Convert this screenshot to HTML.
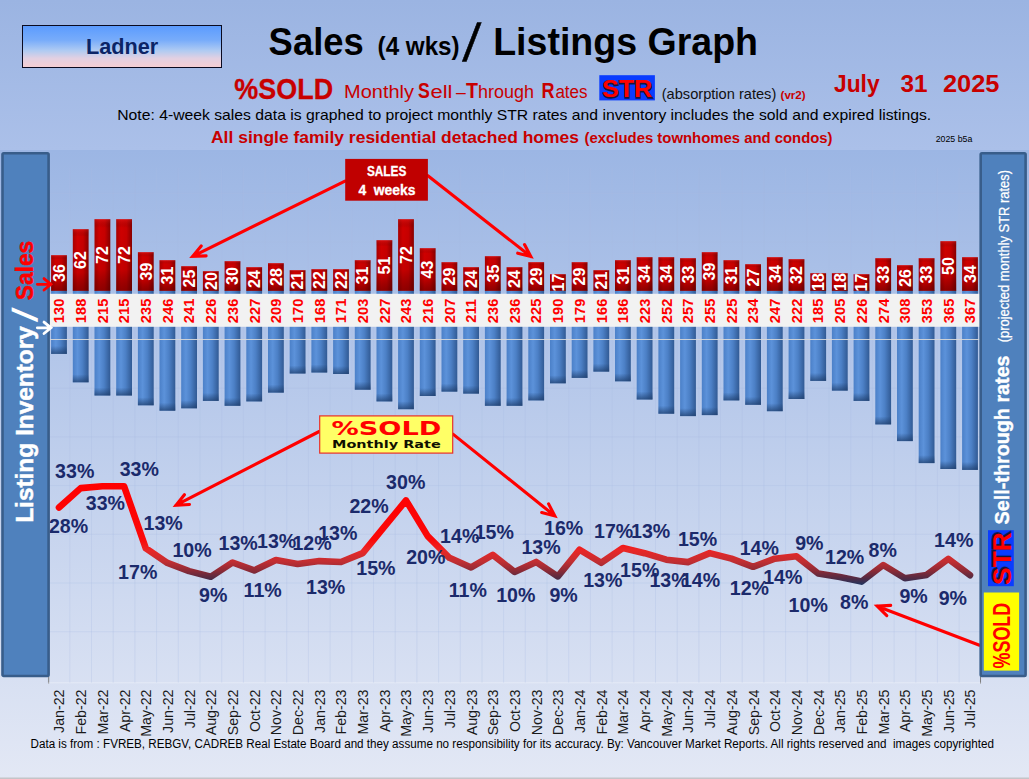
<!DOCTYPE html>
<html><head><meta charset="utf-8"><title>Sales / Listings Graph</title>
<style>
html,body{margin:0;padding:0;background:#e0e5f3;}
svg{display:block}
text{font-family:"Liberation Sans",sans-serif;}
.b{font-weight:bold}
.dj{font-family:"DejaVu Sans","Liberation Sans",sans-serif;font-weight:bold}
</style></head><body>
<svg width="1029" height="779" viewBox="0 0 1029 779">
<defs>
<linearGradient id="bg" x1="0" y1="0" x2="0" y2="1"><stop offset="0" stop-color="#9bb4e2"/><stop offset="1" stop-color="#abc0e9"/></linearGradient>
<linearGradient id="pbg" x1="0" y1="0" x2="0" y2="1"><stop offset="0" stop-color="#9cb6e4"/><stop offset="1" stop-color="#e3e8f5"/></linearGradient>
<linearGradient id="lad" x1="0" y1="0" x2="0" y2="1"><stop offset="0" stop-color="#5a9bff"/><stop offset="0.35" stop-color="#78acfa"/><stop offset="0.6" stop-color="#b0cbf2"/><stop offset="0.78" stop-color="#e2d0e2"/><stop offset="1" stop-color="#f7ced2"/></linearGradient>
<linearGradient id="rb" x1="0" y1="0" x2="1" y2="0"><stop offset="0" stop-color="#a80000"/><stop offset="0.3" stop-color="#cf0000"/><stop offset="0.65" stop-color="#c60000"/><stop offset="1" stop-color="#880000"/></linearGradient>
<linearGradient id="rbv" x1="0" y1="0" x2="0" y2="1"><stop offset="0" stop-color="#ff3030" stop-opacity="0.3"/><stop offset="0.12" stop-color="#000" stop-opacity="0"/><stop offset="0.7" stop-color="#000" stop-opacity="0.04"/><stop offset="1" stop-color="#300000" stop-opacity="0.4"/></linearGradient>
<linearGradient id="bb" x1="0" y1="0" x2="1" y2="0"><stop offset="0" stop-color="#4b80c8"/><stop offset="0.3" stop-color="#5c92da"/><stop offset="0.6" stop-color="#4c80c6"/><stop offset="1" stop-color="#315a94"/></linearGradient>
<linearGradient id="bsh" x1="0" y1="0" x2="0" y2="1"><stop offset="0" stop-color="#1c3a66" stop-opacity="0"/><stop offset="1" stop-color="#1c3a66" stop-opacity="0.7"/></linearGradient>
<linearGradient id="ln" gradientUnits="userSpaceOnUse" x1="0" y1="483" x2="0" y2="585"><stop offset="0" stop-color="#ff0000"/><stop offset="0.55" stop-color="#fb0808"/><stop offset="0.66" stop-color="#ea2626"/><stop offset="0.77" stop-color="#c22e32"/><stop offset="0.86" stop-color="#8c2a36"/><stop offset="0.93" stop-color="#552a42"/><stop offset="1" stop-color="#1f3460"/></linearGradient>
<filter id="sh" x="-20%" y="-20%" width="140%" height="140%"><feGaussianBlur stdDeviation="0.7"/></filter>
</defs>
<rect width="1029" height="150" fill="url(#bg)"/>
<rect y="150" width="1029" height="629" fill="url(#pbg)"/>
<rect x="0" y="777.5" width="1029" height="1.5" fill="#c4c4c8"/>

<path d="M48.2 168V683 M69.8 168V683 M91.5 168V683 M113.2 168V683 M134.9 168V683 M156.6 168V683 M178.3 168V683 M200.0 168V683 M221.7 168V683 M243.4 168V683 M265.1 168V683 M286.7 168V683 M308.4 168V683 M330.1 168V683 M351.8 168V683 M373.5 168V683 M395.2 168V683 M416.9 168V683 M438.6 168V683 M460.3 168V683 M482.0 168V683 M503.6 168V683 M525.3 168V683 M547.0 168V683 M568.7 168V683 M590.4 168V683 M612.1 168V683 M633.8 168V683 M655.5 168V683 M677.2 168V683 M698.9 168V683 M720.5 168V683 M742.2 168V683 M763.9 168V683 M785.6 168V683 M807.3 168V683 M829.0 168V683 M850.7 168V683 M872.4 168V683 M894.1 168V683 M915.8 168V683 M937.4 168V683 M959.1 168V683 M980.8 168V683 M48.2 193.4H980.8 M48.2 242.1H980.8 M48.2 388.2H980.8 M48.2 436.9H980.8 M48.2 485.6H980.8 M48.2 534.3H980.8 M48.2 583.0H980.8 M48.2 631.7H980.8" stroke="#a8bbe2" stroke-opacity="0.28" stroke-width="1" fill="none"/>
<rect x="51.1" y="290.3" width="15.8" height="63.6" fill="url(#bb)"/><rect x="51.1" y="345.9" width="15.8" height="8" fill="url(#bsh)"/>
<rect x="72.8" y="290.3" width="15.8" height="92.0" fill="url(#bb)"/><rect x="72.8" y="374.3" width="15.8" height="8" fill="url(#bsh)"/>
<rect x="94.5" y="290.3" width="15.8" height="105.2" fill="url(#bb)"/><rect x="94.5" y="387.5" width="15.8" height="8" fill="url(#bsh)"/>
<rect x="116.2" y="290.3" width="15.8" height="105.2" fill="url(#bb)"/><rect x="116.2" y="387.5" width="15.8" height="8" fill="url(#bsh)"/>
<rect x="137.9" y="290.3" width="15.8" height="115.0" fill="url(#bb)"/><rect x="137.9" y="397.3" width="15.8" height="8" fill="url(#bsh)"/>
<rect x="159.5" y="290.3" width="15.8" height="120.4" fill="url(#bb)"/><rect x="159.5" y="402.7" width="15.8" height="8" fill="url(#bsh)"/>
<rect x="181.2" y="290.3" width="15.8" height="118.0" fill="url(#bb)"/><rect x="181.2" y="400.3" width="15.8" height="8" fill="url(#bsh)"/>
<rect x="202.9" y="290.3" width="15.8" height="110.6" fill="url(#bb)"/><rect x="202.9" y="392.9" width="15.8" height="8" fill="url(#bsh)"/>
<rect x="224.6" y="290.3" width="15.8" height="115.5" fill="url(#bb)"/><rect x="224.6" y="397.8" width="15.8" height="8" fill="url(#bsh)"/>
<rect x="246.3" y="290.3" width="15.8" height="111.1" fill="url(#bb)"/><rect x="246.3" y="393.4" width="15.8" height="8" fill="url(#bsh)"/>
<rect x="268.0" y="290.3" width="15.8" height="102.3" fill="url(#bb)"/><rect x="268.0" y="384.6" width="15.8" height="8" fill="url(#bsh)"/>
<rect x="289.7" y="290.3" width="15.8" height="83.2" fill="url(#bb)"/><rect x="289.7" y="365.5" width="15.8" height="8" fill="url(#bsh)"/>
<rect x="311.4" y="290.3" width="15.8" height="82.2" fill="url(#bb)"/><rect x="311.4" y="364.5" width="15.8" height="8" fill="url(#bsh)"/>
<rect x="333.1" y="290.3" width="15.8" height="83.7" fill="url(#bb)"/><rect x="333.1" y="366.0" width="15.8" height="8" fill="url(#bsh)"/>
<rect x="354.8" y="290.3" width="15.8" height="99.4" fill="url(#bb)"/><rect x="354.8" y="381.7" width="15.8" height="8" fill="url(#bsh)"/>
<rect x="376.5" y="290.3" width="15.8" height="111.1" fill="url(#bb)"/><rect x="376.5" y="393.4" width="15.8" height="8" fill="url(#bsh)"/>
<rect x="398.1" y="290.3" width="15.8" height="118.9" fill="url(#bb)"/><rect x="398.1" y="401.2" width="15.8" height="8" fill="url(#bsh)"/>
<rect x="419.8" y="290.3" width="15.8" height="105.7" fill="url(#bb)"/><rect x="419.8" y="388.0" width="15.8" height="8" fill="url(#bsh)"/>
<rect x="441.5" y="290.3" width="15.8" height="101.3" fill="url(#bb)"/><rect x="441.5" y="383.6" width="15.8" height="8" fill="url(#bsh)"/>
<rect x="463.2" y="290.3" width="15.8" height="103.3" fill="url(#bb)"/><rect x="463.2" y="385.6" width="15.8" height="8" fill="url(#bsh)"/>
<rect x="484.9" y="290.3" width="15.8" height="115.5" fill="url(#bb)"/><rect x="484.9" y="397.8" width="15.8" height="8" fill="url(#bsh)"/>
<rect x="506.6" y="290.3" width="15.8" height="115.5" fill="url(#bb)"/><rect x="506.6" y="397.8" width="15.8" height="8" fill="url(#bsh)"/>
<rect x="528.3" y="290.3" width="15.8" height="110.1" fill="url(#bb)"/><rect x="528.3" y="392.4" width="15.8" height="8" fill="url(#bsh)"/>
<rect x="550.0" y="290.3" width="15.8" height="93.0" fill="url(#bb)"/><rect x="550.0" y="375.3" width="15.8" height="8" fill="url(#bsh)"/>
<rect x="571.7" y="290.3" width="15.8" height="87.6" fill="url(#bb)"/><rect x="571.7" y="369.9" width="15.8" height="8" fill="url(#bsh)"/>
<rect x="593.4" y="290.3" width="15.8" height="81.3" fill="url(#bb)"/><rect x="593.4" y="363.6" width="15.8" height="8" fill="url(#bsh)"/>
<rect x="615.0" y="290.3" width="15.8" height="91.0" fill="url(#bb)"/><rect x="615.0" y="373.3" width="15.8" height="8" fill="url(#bsh)"/>
<rect x="636.7" y="290.3" width="15.8" height="109.2" fill="url(#bb)"/><rect x="636.7" y="391.5" width="15.8" height="8" fill="url(#bsh)"/>
<rect x="658.4" y="290.3" width="15.8" height="123.4" fill="url(#bb)"/><rect x="658.4" y="405.7" width="15.8" height="8" fill="url(#bsh)"/>
<rect x="680.1" y="290.3" width="15.8" height="125.8" fill="url(#bb)"/><rect x="680.1" y="408.1" width="15.8" height="8" fill="url(#bsh)"/>
<rect x="701.8" y="290.3" width="15.8" height="124.8" fill="url(#bb)"/><rect x="701.8" y="407.1" width="15.8" height="8" fill="url(#bsh)"/>
<rect x="723.5" y="290.3" width="15.8" height="110.1" fill="url(#bb)"/><rect x="723.5" y="392.4" width="15.8" height="8" fill="url(#bsh)"/>
<rect x="745.2" y="290.3" width="15.8" height="114.5" fill="url(#bb)"/><rect x="745.2" y="396.8" width="15.8" height="8" fill="url(#bsh)"/>
<rect x="766.9" y="290.3" width="15.8" height="120.9" fill="url(#bb)"/><rect x="766.9" y="403.2" width="15.8" height="8" fill="url(#bsh)"/>
<rect x="788.6" y="290.3" width="15.8" height="108.7" fill="url(#bb)"/><rect x="788.6" y="391.0" width="15.8" height="8" fill="url(#bsh)"/>
<rect x="810.3" y="290.3" width="15.8" height="90.6" fill="url(#bb)"/><rect x="810.3" y="372.9" width="15.8" height="8" fill="url(#bsh)"/>
<rect x="831.9" y="290.3" width="15.8" height="100.3" fill="url(#bb)"/><rect x="831.9" y="382.6" width="15.8" height="8" fill="url(#bsh)"/>
<rect x="853.6" y="290.3" width="15.8" height="110.6" fill="url(#bb)"/><rect x="853.6" y="392.9" width="15.8" height="8" fill="url(#bsh)"/>
<rect x="875.3" y="290.3" width="15.8" height="134.1" fill="url(#bb)"/><rect x="875.3" y="416.4" width="15.8" height="8" fill="url(#bsh)"/>
<rect x="897.0" y="290.3" width="15.8" height="150.8" fill="url(#bb)"/><rect x="897.0" y="433.1" width="15.8" height="8" fill="url(#bsh)"/>
<rect x="918.7" y="290.3" width="15.8" height="172.8" fill="url(#bb)"/><rect x="918.7" y="455.1" width="15.8" height="8" fill="url(#bsh)"/>
<rect x="940.4" y="290.3" width="15.8" height="178.7" fill="url(#bb)"/><rect x="940.4" y="461.0" width="15.8" height="8" fill="url(#bsh)"/>
<rect x="962.1" y="290.3" width="15.8" height="179.6" fill="url(#bb)"/><rect x="962.1" y="461.9" width="15.8" height="8" fill="url(#bsh)"/>
<line x1="48.2" x2="980.8" y1="339.5" y2="339.5" stroke="#d8d8d8" stroke-width="1" stroke-opacity="0.9"/>
<rect x="48.2" y="293.8" width="932.6" height="33.0" fill="#f2f2f2"/>
<rect x="51.1" y="255.2" width="15.8" height="35.6" fill="url(#rb)"/><rect x="51.1" y="255.2" width="15.8" height="35.6" fill="url(#rbv)"/>
<rect x="72.8" y="229.2" width="15.8" height="61.6" fill="url(#rb)"/><rect x="72.8" y="229.2" width="15.8" height="61.6" fill="url(#rbv)"/>
<rect x="94.5" y="219.2" width="15.8" height="71.6" fill="url(#rb)"/><rect x="94.5" y="219.2" width="15.8" height="71.6" fill="url(#rbv)"/>
<rect x="116.2" y="219.2" width="15.8" height="71.6" fill="url(#rb)"/><rect x="116.2" y="219.2" width="15.8" height="71.6" fill="url(#rbv)"/>
<rect x="137.9" y="252.2" width="15.8" height="38.6" fill="url(#rb)"/><rect x="137.9" y="252.2" width="15.8" height="38.6" fill="url(#rbv)"/>
<rect x="159.5" y="260.2" width="15.8" height="30.6" fill="url(#rb)"/><rect x="159.5" y="260.2" width="15.8" height="30.6" fill="url(#rbv)"/>
<rect x="181.2" y="266.2" width="15.8" height="24.6" fill="url(#rb)"/><rect x="181.2" y="266.2" width="15.8" height="24.6" fill="url(#rbv)"/>
<rect x="202.9" y="271.2" width="15.8" height="19.6" fill="url(#rb)"/><rect x="202.9" y="271.2" width="15.8" height="19.6" fill="url(#rbv)"/>
<rect x="224.6" y="261.2" width="15.8" height="29.6" fill="url(#rb)"/><rect x="224.6" y="261.2" width="15.8" height="29.6" fill="url(#rbv)"/>
<rect x="246.3" y="267.2" width="15.8" height="23.6" fill="url(#rb)"/><rect x="246.3" y="267.2" width="15.8" height="23.6" fill="url(#rbv)"/>
<rect x="268.0" y="263.2" width="15.8" height="27.6" fill="url(#rb)"/><rect x="268.0" y="263.2" width="15.8" height="27.6" fill="url(#rbv)"/>
<rect x="289.7" y="270.2" width="15.8" height="20.6" fill="url(#rb)"/><rect x="289.7" y="270.2" width="15.8" height="20.6" fill="url(#rbv)"/>
<rect x="311.4" y="269.2" width="15.8" height="21.6" fill="url(#rb)"/><rect x="311.4" y="269.2" width="15.8" height="21.6" fill="url(#rbv)"/>
<rect x="333.1" y="269.2" width="15.8" height="21.6" fill="url(#rb)"/><rect x="333.1" y="269.2" width="15.8" height="21.6" fill="url(#rbv)"/>
<rect x="354.8" y="260.2" width="15.8" height="30.6" fill="url(#rb)"/><rect x="354.8" y="260.2" width="15.8" height="30.6" fill="url(#rbv)"/>
<rect x="376.5" y="240.2" width="15.8" height="50.6" fill="url(#rb)"/><rect x="376.5" y="240.2" width="15.8" height="50.6" fill="url(#rbv)"/>
<rect x="398.1" y="219.2" width="15.8" height="71.6" fill="url(#rb)"/><rect x="398.1" y="219.2" width="15.8" height="71.6" fill="url(#rbv)"/>
<rect x="419.8" y="248.2" width="15.8" height="42.6" fill="url(#rb)"/><rect x="419.8" y="248.2" width="15.8" height="42.6" fill="url(#rbv)"/>
<rect x="441.5" y="262.2" width="15.8" height="28.6" fill="url(#rb)"/><rect x="441.5" y="262.2" width="15.8" height="28.6" fill="url(#rbv)"/>
<rect x="463.2" y="267.2" width="15.8" height="23.6" fill="url(#rb)"/><rect x="463.2" y="267.2" width="15.8" height="23.6" fill="url(#rbv)"/>
<rect x="484.9" y="256.2" width="15.8" height="34.6" fill="url(#rb)"/><rect x="484.9" y="256.2" width="15.8" height="34.6" fill="url(#rbv)"/>
<rect x="506.6" y="267.2" width="15.8" height="23.6" fill="url(#rb)"/><rect x="506.6" y="267.2" width="15.8" height="23.6" fill="url(#rbv)"/>
<rect x="528.3" y="262.2" width="15.8" height="28.6" fill="url(#rb)"/><rect x="528.3" y="262.2" width="15.8" height="28.6" fill="url(#rbv)"/>
<rect x="550.0" y="274.2" width="15.8" height="16.6" fill="url(#rb)"/><rect x="550.0" y="274.2" width="15.8" height="16.6" fill="url(#rbv)"/>
<rect x="571.7" y="262.2" width="15.8" height="28.6" fill="url(#rb)"/><rect x="571.7" y="262.2" width="15.8" height="28.6" fill="url(#rbv)"/>
<rect x="593.4" y="270.2" width="15.8" height="20.6" fill="url(#rb)"/><rect x="593.4" y="270.2" width="15.8" height="20.6" fill="url(#rbv)"/>
<rect x="615.0" y="260.2" width="15.8" height="30.6" fill="url(#rb)"/><rect x="615.0" y="260.2" width="15.8" height="30.6" fill="url(#rbv)"/>
<rect x="636.7" y="257.2" width="15.8" height="33.6" fill="url(#rb)"/><rect x="636.7" y="257.2" width="15.8" height="33.6" fill="url(#rbv)"/>
<rect x="658.4" y="257.2" width="15.8" height="33.6" fill="url(#rb)"/><rect x="658.4" y="257.2" width="15.8" height="33.6" fill="url(#rbv)"/>
<rect x="680.1" y="258.2" width="15.8" height="32.6" fill="url(#rb)"/><rect x="680.1" y="258.2" width="15.8" height="32.6" fill="url(#rbv)"/>
<rect x="701.8" y="252.2" width="15.8" height="38.6" fill="url(#rb)"/><rect x="701.8" y="252.2" width="15.8" height="38.6" fill="url(#rbv)"/>
<rect x="723.5" y="260.2" width="15.8" height="30.6" fill="url(#rb)"/><rect x="723.5" y="260.2" width="15.8" height="30.6" fill="url(#rbv)"/>
<rect x="745.2" y="264.2" width="15.8" height="26.6" fill="url(#rb)"/><rect x="745.2" y="264.2" width="15.8" height="26.6" fill="url(#rbv)"/>
<rect x="766.9" y="257.2" width="15.8" height="33.6" fill="url(#rb)"/><rect x="766.9" y="257.2" width="15.8" height="33.6" fill="url(#rbv)"/>
<rect x="788.6" y="259.2" width="15.8" height="31.6" fill="url(#rb)"/><rect x="788.6" y="259.2" width="15.8" height="31.6" fill="url(#rbv)"/>
<rect x="810.3" y="273.2" width="15.8" height="17.6" fill="url(#rb)"/><rect x="810.3" y="273.2" width="15.8" height="17.6" fill="url(#rbv)"/>
<rect x="831.9" y="273.2" width="15.8" height="17.6" fill="url(#rb)"/><rect x="831.9" y="273.2" width="15.8" height="17.6" fill="url(#rbv)"/>
<rect x="853.6" y="274.2" width="15.8" height="16.6" fill="url(#rb)"/><rect x="853.6" y="274.2" width="15.8" height="16.6" fill="url(#rbv)"/>
<rect x="875.3" y="258.2" width="15.8" height="32.6" fill="url(#rb)"/><rect x="875.3" y="258.2" width="15.8" height="32.6" fill="url(#rbv)"/>
<rect x="897.0" y="265.2" width="15.8" height="25.6" fill="url(#rb)"/><rect x="897.0" y="265.2" width="15.8" height="25.6" fill="url(#rbv)"/>
<rect x="918.7" y="258.2" width="15.8" height="32.6" fill="url(#rb)"/><rect x="918.7" y="258.2" width="15.8" height="32.6" fill="url(#rbv)"/>
<rect x="940.4" y="241.2" width="15.8" height="49.6" fill="url(#rb)"/><rect x="940.4" y="241.2" width="15.8" height="49.6" fill="url(#rbv)"/>
<rect x="962.1" y="257.2" width="15.8" height="33.6" fill="url(#rb)"/><rect x="962.1" y="257.2" width="15.8" height="33.6" fill="url(#rbv)"/>
<g font-size="16" font-weight="bold" fill="#ffffff" text-anchor="middle">
<text transform="translate(64.7 273.0) rotate(-90)">36</text>
<text transform="translate(86.4 260.0) rotate(-90)">62</text>
<text transform="translate(108.1 255.0) rotate(-90)">72</text>
<text transform="translate(129.8 255.0) rotate(-90)">72</text>
<text transform="translate(151.5 271.5) rotate(-90)">39</text>
<text transform="translate(173.1 275.5) rotate(-90)">31</text>
<text transform="translate(194.8 278.5) rotate(-90)">25</text>
<text transform="translate(216.5 281.0) rotate(-90)">20</text>
<text transform="translate(238.2 276.0) rotate(-90)">30</text>
<text transform="translate(259.9 279.0) rotate(-90)">24</text>
<text transform="translate(281.6 277.0) rotate(-90)">28</text>
<text transform="translate(303.3 280.5) rotate(-90)">21</text>
<text transform="translate(325.0 280.0) rotate(-90)">22</text>
<text transform="translate(346.7 280.0) rotate(-90)">22</text>
<text transform="translate(368.4 275.5) rotate(-90)">31</text>
<text transform="translate(390.1 265.5) rotate(-90)">51</text>
<text transform="translate(411.7 255.0) rotate(-90)">72</text>
<text transform="translate(433.4 269.5) rotate(-90)">43</text>
<text transform="translate(455.1 276.5) rotate(-90)">29</text>
<text transform="translate(476.8 279.0) rotate(-90)">24</text>
<text transform="translate(498.5 273.5) rotate(-90)">35</text>
<text transform="translate(520.2 279.0) rotate(-90)">24</text>
<text transform="translate(541.9 276.5) rotate(-90)">29</text>
<text transform="translate(563.6 282.5) rotate(-90)">17</text>
<text transform="translate(585.3 276.5) rotate(-90)">29</text>
<text transform="translate(607.0 280.5) rotate(-90)">21</text>
<text transform="translate(628.6 275.5) rotate(-90)">31</text>
<text transform="translate(650.3 274.0) rotate(-90)">34</text>
<text transform="translate(672.0 274.0) rotate(-90)">34</text>
<text transform="translate(693.7 274.5) rotate(-90)">33</text>
<text transform="translate(715.4 271.5) rotate(-90)">39</text>
<text transform="translate(737.1 275.5) rotate(-90)">31</text>
<text transform="translate(758.8 277.5) rotate(-90)">27</text>
<text transform="translate(780.5 274.0) rotate(-90)">34</text>
<text transform="translate(802.2 275.0) rotate(-90)">32</text>
<text transform="translate(823.9 282.0) rotate(-90)">18</text>
<text transform="translate(845.5 282.0) rotate(-90)">18</text>
<text transform="translate(867.2 282.5) rotate(-90)">17</text>
<text transform="translate(888.9 274.5) rotate(-90)">33</text>
<text transform="translate(910.6 278.0) rotate(-90)">26</text>
<text transform="translate(932.3 274.5) rotate(-90)">33</text>
<text transform="translate(954.0 266.0) rotate(-90)">50</text>
<text transform="translate(975.7 274.0) rotate(-90)">34</text>
</g>
<g font-size="14.67" font-weight="bold" fill="#ff0000" text-anchor="middle">
<text transform="translate(64.2 310.9) rotate(-90)">130</text>
<text transform="translate(85.9 310.9) rotate(-90)">188</text>
<text transform="translate(107.6 310.9) rotate(-90)">215</text>
<text transform="translate(129.3 310.9) rotate(-90)">215</text>
<text transform="translate(151.0 310.9) rotate(-90)">235</text>
<text transform="translate(172.7 310.9) rotate(-90)">246</text>
<text transform="translate(194.4 310.9) rotate(-90)">241</text>
<text transform="translate(216.1 310.9) rotate(-90)">226</text>
<text transform="translate(237.8 310.9) rotate(-90)">236</text>
<text transform="translate(259.5 310.9) rotate(-90)">227</text>
<text transform="translate(281.1 310.9) rotate(-90)">209</text>
<text transform="translate(302.8 310.9) rotate(-90)">170</text>
<text transform="translate(324.5 310.9) rotate(-90)">168</text>
<text transform="translate(346.2 310.9) rotate(-90)">171</text>
<text transform="translate(367.9 310.9) rotate(-90)">203</text>
<text transform="translate(389.6 310.9) rotate(-90)">227</text>
<text transform="translate(411.3 310.9) rotate(-90)">243</text>
<text transform="translate(433.0 310.9) rotate(-90)">216</text>
<text transform="translate(454.7 310.9) rotate(-90)">207</text>
<text transform="translate(476.4 310.9) rotate(-90)">211</text>
<text transform="translate(498.1 310.9) rotate(-90)">236</text>
<text transform="translate(519.7 310.9) rotate(-90)">236</text>
<text transform="translate(541.4 310.9) rotate(-90)">225</text>
<text transform="translate(563.1 310.9) rotate(-90)">190</text>
<text transform="translate(584.8 310.9) rotate(-90)">179</text>
<text transform="translate(606.5 310.9) rotate(-90)">166</text>
<text transform="translate(628.2 310.9) rotate(-90)">186</text>
<text transform="translate(649.9 310.9) rotate(-90)">223</text>
<text transform="translate(671.6 310.9) rotate(-90)">252</text>
<text transform="translate(693.3 310.9) rotate(-90)">257</text>
<text transform="translate(715.0 310.9) rotate(-90)">255</text>
<text transform="translate(736.6 310.9) rotate(-90)">225</text>
<text transform="translate(758.3 310.9) rotate(-90)">234</text>
<text transform="translate(780.0 310.9) rotate(-90)">247</text>
<text transform="translate(801.7 310.9) rotate(-90)">222</text>
<text transform="translate(823.4 310.9) rotate(-90)">185</text>
<text transform="translate(845.1 310.9) rotate(-90)">205</text>
<text transform="translate(866.8 310.9) rotate(-90)">226</text>
<text transform="translate(888.5 310.9) rotate(-90)">274</text>
<text transform="translate(910.2 310.9) rotate(-90)">308</text>
<text transform="translate(931.9 310.9) rotate(-90)">353</text>
<text transform="translate(953.5 310.9) rotate(-90)">365</text>
<text transform="translate(975.2 310.9) rotate(-90)">367</text>
</g>
<path d="M345.0 181.1L192.6 256.4M206.1 255.9L192.6 256.4L201.2 246.0" fill="none" stroke="#ff0000" stroke-width="3.1" stroke-linecap="round" stroke-linejoin="miter"/>
<path d="M427.9 175.7L530.8 256.5M524.5 244.6L530.8 256.5L517.7 253.2" fill="none" stroke="#ff0000" stroke-width="3.1" stroke-linecap="round" stroke-linejoin="miter"/>
<path d="M319.2 431.5L176.0 505.2M189.5 504.5L176.0 505.2L184.4 494.7" fill="none" stroke="#ff0000" stroke-width="3.1" stroke-linecap="round" stroke-linejoin="miter"/>
<path d="M453.0 434.1L554.8 515.9M548.6 503.9L554.8 515.9L541.7 512.5" fill="none" stroke="#ff0000" stroke-width="3.1" stroke-linecap="round" stroke-linejoin="miter"/>
<path d="M979.5 645.2L877.2 606.2M886.8 615.7L877.2 606.2L890.7 605.4" fill="none" stroke="#ff0000" stroke-width="3.1" stroke-linecap="round" stroke-linejoin="miter"/>
<polyline points="59.0,507.5 80.7,488.1 102.4,486.3 124.1,486.3 145.8,548.3 167.4,562.9 189.1,571.1 210.8,576.7 232.5,562.5 254.2,570.4 275.9,560.0 297.6,563.9 319.3,561.1 341.0,562.0 362.7,553.1 384.4,526.7 406.0,500.4 427.7,536.1 449.4,557.8 471.1,567.4 492.8,554.8 514.5,571.9 536.2,561.9 557.9,576.4 579.6,549.7 601.2,562.8 622.9,548.0 644.6,553.2 666.3,559.7 688.0,562.1 709.7,553.1 731.4,558.6 753.1,566.8 774.8,558.7 796.5,556.3 818.2,573.5 839.8,577.0 861.5,581.6 883.2,565.0 904.9,578.2 926.6,574.9 948.3,558.9 970.0,575.2" fill="none" stroke="url(#ln)" stroke-width="6.6" stroke-linejoin="round" stroke-linecap="round"/>
<g font-size="19.6" font-weight="bold" fill="#1b2a6b">
<text x="48.9" y="532.5">28%</text>
<text x="55.1" y="477.6">33%</text>
<text x="85.8" y="509.9">33%</text>
<text x="119.7" y="475.7">33%</text>
<text x="118.1" y="579.2">17%</text>
<text x="143.5" y="530.2">13%</text>
<text x="172.4" y="556.8">10%</text>
<text x="199.0" y="601.8">9%</text>
<text x="218.5" y="549.6">13%</text>
<text x="243.6" y="597.2">11%</text>
<text x="257.0" y="548.0">13%</text>
<text x="292.4" y="549.6">12%</text>
<text x="318.2" y="539.9">13%</text>
<text x="306.0" y="593.7">13%</text>
<text x="356.3" y="574.6">15%</text>
<text x="349.4" y="512.6">22%</text>
<text x="386.1" y="489.1">30%</text>
<text x="406.2" y="563.7">20%</text>
<text x="440.1" y="543.4">14%</text>
<text x="448.7" y="596.5">11%</text>
<text x="474.7" y="538.8">15%</text>
<text x="496.2" y="602.3">10%</text>
<text x="521.4" y="553.8">13%</text>
<text x="549.4" y="602.3">9%</text>
<text x="544.0" y="535.3">16%</text>
<text x="583.2" y="586.8">13%</text>
<text x="594.0" y="537.6">17%</text>
<text x="620.1" y="576.9">15%</text>
<text x="631.0" y="537.6">13%</text>
<text x="649.4" y="586.8">13%</text>
<text x="677.9" y="545.7">15%</text>
<text x="680.9" y="586.8">14%</text>
<text x="729.8" y="595.3">12%</text>
<text x="739.7" y="554.5">14%</text>
<text x="763.2" y="584.1">14%</text>
<text x="795.2" y="549.7">9%</text>
<text x="788.6" y="611.5">10%</text>
<text x="825.0" y="563.8">12%</text>
<text x="840.0" y="609.1">8%</text>
<text x="868.6" y="557.0">8%</text>
<text x="899.4" y="603.1">9%</text>
<text x="934.1" y="547.3">14%</text>
<text x="938.7" y="604.8">9%</text>
</g>
<g font-size="14.2" fill="#1a1a1a" text-anchor="end">
<text transform="translate(64.4 689.5) rotate(-90)">Jan-22</text>
<text transform="translate(86.1 689.5) rotate(-90)">Feb-22</text>
<text transform="translate(107.8 689.5) rotate(-90)">Mar-22</text>
<text transform="translate(129.5 689.5) rotate(-90)">Apr-22</text>
<text transform="translate(151.2 689.5) rotate(-90)">May-22</text>
<text transform="translate(172.8 689.5) rotate(-90)">Jun-22</text>
<text transform="translate(194.5 689.5) rotate(-90)">Jul-22</text>
<text transform="translate(216.2 689.5) rotate(-90)">Aug-22</text>
<text transform="translate(237.9 689.5) rotate(-90)">Sep-22</text>
<text transform="translate(259.6 689.5) rotate(-90)">Oct-22</text>
<text transform="translate(281.3 689.5) rotate(-90)">Nov-22</text>
<text transform="translate(303.0 689.5) rotate(-90)">Dec-22</text>
<text transform="translate(324.7 689.5) rotate(-90)">Jan-23</text>
<text transform="translate(346.4 689.5) rotate(-90)">Feb-23</text>
<text transform="translate(368.1 689.5) rotate(-90)">Mar-23</text>
<text transform="translate(389.8 689.5) rotate(-90)">Apr-23</text>
<text transform="translate(411.4 689.5) rotate(-90)">May-23</text>
<text transform="translate(433.1 689.5) rotate(-90)">Jun-23</text>
<text transform="translate(454.8 689.5) rotate(-90)">Jul-23</text>
<text transform="translate(476.5 689.5) rotate(-90)">Aug-23</text>
<text transform="translate(498.2 689.5) rotate(-90)">Sep-23</text>
<text transform="translate(519.9 689.5) rotate(-90)">Oct-23</text>
<text transform="translate(541.6 689.5) rotate(-90)">Nov-23</text>
<text transform="translate(563.3 689.5) rotate(-90)">Dec-23</text>
<text transform="translate(585.0 689.5) rotate(-90)">Jan-24</text>
<text transform="translate(606.6 689.5) rotate(-90)">Feb-24</text>
<text transform="translate(628.3 689.5) rotate(-90)">Mar-24</text>
<text transform="translate(650.0 689.5) rotate(-90)">Apr-24</text>
<text transform="translate(671.7 689.5) rotate(-90)">May-24</text>
<text transform="translate(693.4 689.5) rotate(-90)">Jun-24</text>
<text transform="translate(715.1 689.5) rotate(-90)">Jul-24</text>
<text transform="translate(736.8 689.5) rotate(-90)">Aug-24</text>
<text transform="translate(758.5 689.5) rotate(-90)">Sep-24</text>
<text transform="translate(780.2 689.5) rotate(-90)">Oct-24</text>
<text transform="translate(801.9 689.5) rotate(-90)">Nov-24</text>
<text transform="translate(823.6 689.5) rotate(-90)">Dec-24</text>
<text transform="translate(845.2 689.5) rotate(-90)">Jan-25</text>
<text transform="translate(866.9 689.5) rotate(-90)">Feb-25</text>
<text transform="translate(888.6 689.5) rotate(-90)">Mar-25</text>
<text transform="translate(910.3 689.5) rotate(-90)">Apr-25</text>
<text transform="translate(932.0 689.5) rotate(-90)">May-25</text>
<text transform="translate(953.7 689.5) rotate(-90)">Jun-25</text>
<text transform="translate(975.4 689.5) rotate(-90)">Jul-25</text>
</g>
<path d="M48.7 677V683.5M980.5 677V683.5" stroke="#7f7f7f" stroke-width="1"/>
<line x1="48.2" x2="980.8" y1="682.8" y2="682.8" stroke="#ffffff" stroke-opacity="0.35" stroke-width="1"/>
<rect x="345.2" y="158.9" width="82.7" height="41.8" fill="#c00000"/>
<text class="b" x="366.9" y="175.8" font-size="14" fill="#fff" stroke="#fff" stroke-width="0.3" textLength="39.5" lengthAdjust="spacingAndGlyphs">SALES</text>
<text class="b" x="358.4" y="194.7" font-size="14" fill="#fff" stroke="#fff" stroke-width="0.3" textLength="57" lengthAdjust="spacingAndGlyphs" xml:space="preserve">4  weeks</text>
<rect x="319.7" y="415.9" width="133" height="37.2" fill="#ffff66" stroke="#e8302a" stroke-width="1.2"/>
<text class="dj" x="331.5" y="435" font-size="19.7" fill="#ff0000" textLength="109.8" lengthAdjust="spacingAndGlyphs">%SOLD</text>
<text class="dj" x="332" y="448.1" font-size="10.4" fill="#101000" textLength="108.8" lengthAdjust="spacingAndGlyphs">Monthly Rate</text>
<rect x="2.5" y="153.3" width="46.1" height="522.7" rx="1.2" fill="#4f81bd" stroke="#385d8a" stroke-width="2.6"/>
<text class="b" transform="translate(33 522.8) rotate(-90)" font-size="24.2" fill="#fff" stroke="#fff" stroke-width="0.45" textLength="196.6" lengthAdjust="spacingAndGlyphs">Listing Inventory</text>
<text class="b" transform="translate(37.2 322.4) rotate(-90) skewX(-13)" font-size="35" fill="#fff">/</text>
<text class="b" transform="translate(33.2 300.3) rotate(-90)" font-size="24.2" fill="#ff0000" stroke="#ff0000" stroke-width="0.45" textLength="59.6" lengthAdjust="spacingAndGlyphs">Sales</text>
<path d="M37.3 284.3L51.0 284.3M44.0 278.6L51.0 284.3L44.0 290.0" fill="none" stroke="#ff0000" stroke-width="2.8" stroke-linecap="round" stroke-linejoin="miter"/>
<path d="M37.3 327.8L51.0 327.8M44.0 322.1L51.0 327.8L44.0 333.5" fill="none" stroke="#ffffff" stroke-width="2.8" stroke-linecap="round" stroke-linejoin="miter"/>
<rect x="980.7" y="153.3" width="44.9" height="522.7" rx="1.2" fill="#4f81bd" stroke="#385d8a" stroke-width="2.6"/>
<rect x="983.8" y="592.5" width="35.3" height="78.1" fill="#ffff00"/>
<text class="b" transform="translate(1009.8 668.4) rotate(-90)" font-size="23.3" fill="#ff0000" textLength="65.6" lengthAdjust="spacingAndGlyphs">%SOLD</text>
<rect x="988" y="530.2" width="25.8" height="56" fill="#0a3cff"/>
<text class="b" transform="translate(1010.2 583.9) rotate(-90)" font-size="26" fill="#14143a" stroke="#14143a" stroke-width="1.6" filter="url(#sh)" textLength="52.6" lengthAdjust="spacingAndGlyphs">STR</text>
<text class="b" transform="translate(1011.2 584.9) rotate(-90)" font-size="26" fill="#ff0000" textLength="52.6" lengthAdjust="spacingAndGlyphs">STR</text>
<text class="b" transform="translate(1008.7 524.4) rotate(-90)" font-size="20.6" fill="#fff" stroke="#fff" stroke-width="0.4" textLength="169" lengthAdjust="spacingAndGlyphs">Sell-through rates</text>
<text transform="translate(1008.7 342.3) rotate(-90)" font-size="14.4" fill="#fff" stroke="#fff" stroke-width="0.25" textLength="172.3" lengthAdjust="spacingAndGlyphs">(projected monthly STR rates)</text>
<rect x="22.5" y="25.5" width="199" height="42" fill="url(#lad)" stroke="#0a0a20" stroke-width="1"/>
<text class="b" x="85.9" y="53.6" font-size="22.2" fill="#0b2466" textLength="72.3" lengthAdjust="spacingAndGlyphs">Ladner</text>
<text class="b" x="268.6" y="55" font-size="39" fill="#000" textLength="95.2" lengthAdjust="spacingAndGlyphs">Sales</text>
<text class="b" x="377.6" y="55" font-size="25.2" fill="#000" textLength="82" lengthAdjust="spacingAndGlyphs">(4 wks)</text>
<text transform="translate(462.3 61) skewX(-6.5)" font-size="53" fill="#000" stroke="#000" stroke-width="0.5">/</text>
<text class="b" x="493.2" y="54.8" font-size="39.3" fill="#000" textLength="264.8" lengthAdjust="spacingAndGlyphs">Listings Graph</text>
<text class="b" x="234.3" y="98.6" font-size="29.6" fill="#c80000" stroke="#c80000" stroke-width="0.3" textLength="98.8" lengthAdjust="spacingAndGlyphs">%SOLD</text>
<text x="344" y="98.4" font-size="17.6" fill="#c80000" textLength="70" lengthAdjust="spacingAndGlyphs">Monthly</text>
<text class="b" x="418" y="98.4" font-size="22.5" fill="#c80000" textLength="11.8" lengthAdjust="spacingAndGlyphs">S</text>
<text x="430.5" y="98.4" font-size="17.6" fill="#c80000" textLength="22" lengthAdjust="spacingAndGlyphs">ell</text>
<text x="456" y="98.4" font-size="17.6" fill="#c80000">–</text>
<text class="b" x="466" y="98.4" font-size="22.5" fill="#c80000" textLength="12" lengthAdjust="spacingAndGlyphs">T</text>
<text x="478" y="98.4" font-size="17.6" fill="#c80000" textLength="56" lengthAdjust="spacingAndGlyphs">hrough</text>
<text class="b" x="541.4" y="98.4" font-size="22.5" fill="#c80000" textLength="13" lengthAdjust="spacingAndGlyphs">R</text>
<text x="555.4" y="98.4" font-size="17.6" fill="#c80000" textLength="32.2" lengthAdjust="spacingAndGlyphs">ates</text>
<rect x="599.3" y="75.2" width="55.6" height="25.2" fill="#0a3cff"/>
<text class="b" x="602.6" y="97.5" font-size="23.6" fill="#14143a" stroke="#14143a" stroke-width="1.6" filter="url(#sh)" textLength="50" lengthAdjust="spacingAndGlyphs">STR</text>
<text class="b" x="602" y="96.8" font-size="23.6" fill="#ff0000" textLength="50" lengthAdjust="spacingAndGlyphs">STR</text>
<text x="661.7" y="98.6" font-size="14.2" fill="#111" textLength="114.6" lengthAdjust="spacingAndGlyphs">(absorption rates)</text>
<text class="b" x="780.6" y="98.9" font-size="11.8" fill="#c80000" textLength="25" lengthAdjust="spacingAndGlyphs">(vr2)</text>
<text class="b" x="834" y="92.2" font-size="23.6" fill="#c80000" textLength="45.6" lengthAdjust="spacingAndGlyphs">July</text>
<text class="b" x="900.5" y="92.2" font-size="23.6" fill="#c80000" textLength="27.1" lengthAdjust="spacingAndGlyphs">31</text>
<text class="b" x="943" y="92.2" font-size="23.6" fill="#c80000" textLength="56.5" lengthAdjust="spacingAndGlyphs">2025</text>
<text x="117.2" y="120.3" font-size="14.6" fill="#000" textLength="814" lengthAdjust="spacingAndGlyphs">Note: 4-week sales data is graphed to project monthly STR rates and inventory includes the sold and expired listings.</text>
<text class="b" x="211" y="142.6" font-size="16.6" fill="#c80000" textLength="368" lengthAdjust="spacingAndGlyphs">All single family residential detached homes</text>
<text class="b" x="584.6" y="142.6" font-size="14.4" fill="#c80000" textLength="248" lengthAdjust="spacingAndGlyphs">(excludes townhomes and condos)</text>
<text x="935.7" y="141.5" font-size="9.4" fill="#000" textLength="36.6" lengthAdjust="spacingAndGlyphs">2025 b5a</text>
<text x="30.5" y="747.5" font-size="12" fill="#000" textLength="963.5" lengthAdjust="spacingAndGlyphs" xml:space="preserve">Data is from : FVREB, REBGV, CADREB Real Estate Board and they assume no responsibility for its accuracy. By: Vancouver Market Reports. All rights reserved and  images copyrighted</text>
</svg></body></html>
